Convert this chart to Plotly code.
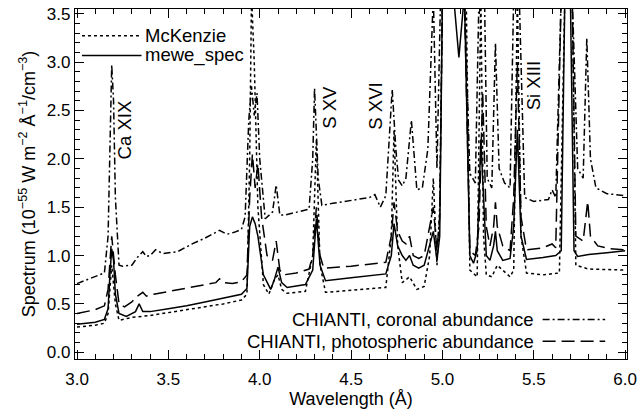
import plotly.graph_objects as go

# ---------------- data ----------------
mewe_x = [3.00,3.10,3.15,3.17,3.18,3.19,3.20,3.21,3.23,3.27,3.32,3.34,3.36,3.40,3.50,3.60,3.70,3.80,3.90,3.93,3.945,3.96,3.975,3.99,4.02,4.06,4.08,4.10,4.12,4.15,4.25,4.29,4.31,4.33,4.36,4.50,4.69,4.72,4.735,4.755,4.78,4.80,4.82,4.84,4.87,4.90,4.93,4.95,4.97,4.985,5.00,5.06,5.09,5.12,5.15,5.17,5.19,5.21,5.225,5.24,5.26,5.28,5.29,5.30,5.33,5.37,5.39,5.41,5.43,5.46,5.55,5.62,5.65,5.67,5.70,5.72,5.74,5.80,5.90,6.00]
mewe_y = [0.29,0.31,0.34,0.45,0.80,1.07,0.95,0.60,0.40,0.37,0.42,0.50,0.42,0.42,0.45,0.48,0.52,0.56,0.60,0.66,1.30,1.40,1.33,1.20,0.80,0.65,0.75,0.88,0.72,0.67,0.70,0.85,1.38,0.90,0.74,0.77,0.81,1.00,1.33,1.10,1.00,0.95,1.00,0.90,0.87,0.90,1.10,1.25,0.95,1.20,3.70,3.70,3.05,3.70,1.00,0.92,1.05,2.20,1.60,1.00,0.95,1.10,1.25,1.05,0.95,0.97,1.30,2.30,1.20,0.96,0.98,1.00,1.05,3.70,3.70,1.05,0.99,1.01,1.03,1.05]

mck_x = [3.00,3.10,3.15,3.17,3.19,3.21,3.23,3.30,3.40,3.50,3.60,3.70,3.80,3.90,3.93,3.945,3.955,3.97,3.99,4.02,4.05,4.08,4.10,4.12,4.15,4.25,4.29,4.31,4.33,4.36,4.50,4.69,4.72,4.735,4.755,4.78,4.82,4.86,4.90,4.93,4.95,4.97,4.985,5.00,5.13,5.15,5.19,5.21,5.225,5.24,5.27,5.30,5.37,5.39,5.41,5.43,5.46,5.55,5.64,5.67,5.71,5.73,5.80,6.00]
mck_y = [0.26,0.28,0.30,0.40,0.90,0.50,0.33,0.36,0.38,0.41,0.44,0.47,0.50,0.54,0.60,2.00,3.70,3.00,1.50,0.70,0.60,0.75,0.80,0.65,0.61,0.63,1.00,2.20,0.90,0.62,0.64,0.67,1.20,2.30,1.10,0.72,0.78,0.65,0.68,1.00,1.80,0.90,1.50,3.70,3.70,0.85,0.78,3.70,1.20,0.80,0.78,0.90,0.78,0.85,3.70,1.20,0.82,0.80,0.82,3.70,3.70,0.90,0.86,0.85]

cor_x = [3.00,3.10,3.15,3.17,3.18,3.19,3.20,3.21,3.23,3.25,3.30,3.33,3.36,3.38,3.40,3.43,3.47,3.55,3.63,3.70,3.78,3.82,3.86,3.90,3.92,3.94,3.955,3.97,3.985,4.00,4.03,4.07,4.09,4.11,4.14,4.20,4.27,4.29,4.30,4.32,4.34,4.40,4.50,4.60,4.63,4.66,4.69,4.725,4.745,4.76,4.78,4.80,4.83,4.86,4.89,4.92,4.95,4.97,4.99,5.12,5.15,5.18,5.20,5.23,5.245,5.27,5.29,5.31,5.34,5.37,5.39,5.42,5.45,5.50,5.58,5.60,5.62,5.65,5.71,5.74,5.77,5.79,5.81,5.84,5.90,6.00]
cor_y = [0.71,0.78,0.82,1.20,2.20,2.97,2.60,1.60,0.90,0.89,0.90,0.98,1.04,0.99,1.00,1.06,1.02,1.04,1.12,1.18,1.26,1.22,1.24,1.27,1.40,2.40,2.75,2.45,2.68,2.00,1.38,1.45,1.73,1.42,1.42,1.45,1.48,2.00,2.73,1.80,1.52,1.54,1.57,1.60,1.63,1.50,1.62,2.72,2.10,1.78,1.72,1.80,2.40,1.68,1.70,2.10,3.70,1.90,3.70,3.70,1.85,1.75,3.70,3.70,1.80,1.70,3.20,1.90,1.75,1.70,3.70,3.70,1.60,1.56,1.58,1.68,1.60,3.70,3.70,1.90,1.80,3.25,2.00,1.70,1.64,1.62]

pho_x = [3.00,3.10,3.15,3.17,3.19,3.21,3.23,3.26,3.30,3.33,3.36,3.38,3.42,3.50,3.60,3.70,3.76,3.78,3.80,3.85,3.90,3.93,3.945,3.96,3.975,3.99,4.01,4.04,4.07,4.09,4.11,4.13,4.20,4.27,4.29,4.31,4.33,4.35,4.50,4.69,4.72,4.735,4.755,4.78,4.80,4.82,4.84,4.87,4.90,4.93,4.95,4.97,4.985,5.00,5.12,5.15,5.18,5.20,5.22,5.24,5.26,5.28,5.29,5.30,5.33,5.37,5.39,5.41,5.43,5.46,5.55,5.60,5.62,5.65,5.71,5.73,5.77,5.795,5.81,5.85,5.92,6.00]
pho_y = [0.40,0.44,0.48,0.65,1.20,0.80,0.50,0.47,0.52,0.58,0.62,0.58,0.60,0.63,0.66,0.70,0.72,0.76,0.72,0.71,0.73,0.80,1.60,2.05,1.70,1.95,1.40,1.00,0.95,1.15,0.85,0.80,0.82,0.86,1.00,1.50,1.00,0.87,0.89,0.93,1.20,1.55,1.25,1.15,1.12,1.20,1.00,0.97,1.00,1.30,1.50,1.05,1.40,3.70,3.70,1.05,1.00,1.30,2.70,1.30,1.10,1.30,1.55,1.30,1.10,1.05,1.60,3.00,1.40,1.06,1.08,1.12,1.08,3.70,3.70,1.20,1.15,1.56,1.20,1.10,1.07,1.06]

x_ticks = [3.0, 3.5, 4.0, 4.5, 5.0, 5.5, 6.0]
y_ticks = [0.0, 0.5, 1.0, 1.5, 2.0, 2.5, 3.0, 3.5]

ion_labels = ["Ca XIX", "S XV", "S XVI", "Si XIII"]
ion_x = [3.26, 4.38, 4.636, 5.495]
ion_y = [2.30, 2.53, 2.55, 2.76]

FONT = "Liberation Sans, Arial, Helvetica, sans-serif"
LW = 1.5
ANN = 18.5

fig = go.Figure()
fig.add_trace(go.Scatter(x=mck_x, y=mck_y, mode="lines", name="McKenzie",
                         line=dict(color="black", width=LW, dash="dot")))
fig.add_trace(go.Scatter(x=mewe_x, y=mewe_y, mode="lines", name="mewe_spec",
                         line=dict(color="black", width=LW)))
fig.add_trace(go.Scatter(x=cor_x, y=cor_y, mode="lines", name="CHIANTI, coronal abundance",
                         line=dict(color="black", width=LW, dash="7px,3px,2px,3px")))
fig.add_trace(go.Scatter(x=pho_x, y=pho_y, mode="lines", name="CHIANTI, photospheric abundance",
                         line=dict(color="black", width=LW, dash="13px,6px")))

for t, xx, yy in zip(ion_labels, ion_x, ion_y):
    fig.add_annotation(x=xx, y=yy, text=t, textangle=-90, showarrow=False,
                       font=dict(size=ANN, color="black", family=FONT))

# legends drawn as text + sample lines (paper coordinates)
PW, PH = 556.0, 354.0
def px2paper_x(p):
    return (p - 75) / PW
def py2paper_y(p):
    return (359 - p) / PH

leg_top = [("McKenzie", "dot", 32), ("mewe_spec", "solid", 52)]
for txt, d, yy in leg_top:
    fig.add_shape(type="line", xref="paper", yref="paper",
                  x0=px2paper_x(82), x1=px2paper_x(142), y0=py2paper_y(yy), y1=py2paper_y(yy),
                  line=dict(color="black", width=LW, dash=d))
    fig.add_annotation(xref="paper", yref="paper", x=px2paper_x(143), y=py2paper_y(yy),
                       text=txt, showarrow=False, xanchor="left", yanchor="middle",
                       font=dict(size=ANN, color="black", family=FONT))

leg_bot = [("CHIANTI, coronal abundance", "7px,3px,2px,3px", 319),
           ("CHIANTI, photospheric abundance", "13px,6px", 341)]
for txt, d, yy in leg_bot:
    fig.add_shape(type="line", xref="paper", yref="paper",
                  x0=px2paper_x(546), x1=px2paper_x(609), y0=py2paper_y(yy), y1=py2paper_y(yy),
                  line=dict(color="black", width=LW, dash=d))
    fig.add_annotation(xref="paper", yref="paper", x=px2paper_x(539), y=py2paper_y(yy),
                       text=txt, showarrow=False, xanchor="right", yanchor="middle",
                       font=dict(size=ANN, color="black", family=FONT))

axis_common = dict(showline=True, linecolor="black", linewidth=1.2, mirror="allticks",
                   ticks="inside", ticklen=9, tickwidth=1.2, tickcolor="black",
                   showgrid=False, zeroline=False,
                   tickfont=dict(size=17, color="black", family=FONT),
                   minor=dict(ticks="inside", ticklen=5, tickwidth=1, tickcolor="black", dtick=0.1, showgrid=False))

fig.update_xaxes(range=[2.989, 6.01], tickvals=x_ticks, ticktext=[f"{v:.1f}" for v in x_ticks],
                 ticklabelstandoff=4,
                 title=dict(text="Wavelength (Å)", font=dict(size=18, color="black", family=FONT), standoff=4),
                 **axis_common)
fig.update_yaxes(range=[-0.07, 3.55], tickvals=y_ticks, ticktext=[f"{v:.1f}" for v in y_ticks],
                 title=dict(text="Spectrum (10<sup>−55</sup> W m<sup>−2</sup> Å<sup>−1</sup>/cm<sup>−3</sup>)",
                            font=dict(size=18, color="black", family=FONT), standoff=6),
                 **axis_common)

fig.update_layout(width=642, height=414, margin=dict(l=75, r=11, t=5, b=55),
                  paper_bgcolor="white", plot_bgcolor="white", showlegend=False,
                  font=dict(family=FONT, color="black"))

fig.write_html("out.html")
